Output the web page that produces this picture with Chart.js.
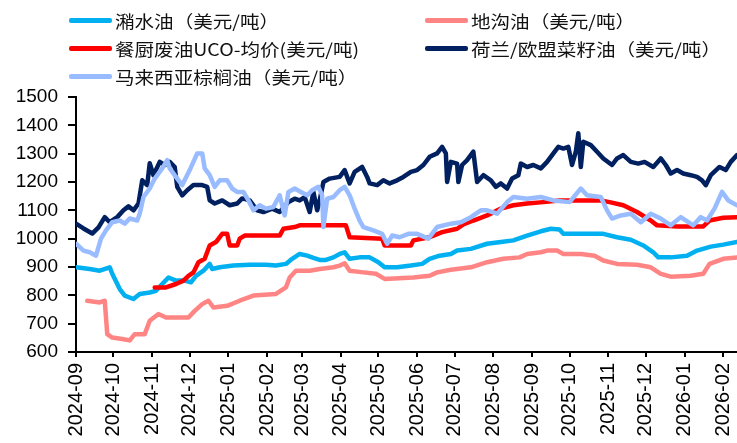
<!DOCTYPE html>
<html>
<head>
<meta charset="utf-8">
<title>废弃油脂与植物油价格</title>
<script src="https://cdn.jsdelivr.net/npm/chart.js@4.4.1/dist/chart.umd.min.js"></script>
<style>
  body { margin: 0; background: #fff; }
  #wrap { position: relative; width: 737px; height: 443px; }
  #legend {
    position: absolute; left: 69px; top: 6px;
    display: grid; grid-template-columns: 356px auto; grid-auto-rows: 28px;
  }
  .item { display: flex; align-items: center; white-space: nowrap; }
  .swatch { width: 43px; height: 5px; border-radius: 2px; margin-right: 3px; }
  .name {
    display: inline-block; color: #111;
    font: 17px "Noto Sans CJK SC", sans-serif;
    transform: scaleX(1.15); transform-origin: left center;
  }
</style>
</head>
<body>
<div id="wrap">
  <canvas id="oilChart" width="737" height="443"></canvas>
  <div id="legend"></div>
</div>
<script>
// month labels on the x axis
const monthTicks = [
  "2024-09", "2024-10", "2024-11", "2024-12", "2025-01", "2025-02", "2025-03", "2025-04", "2025-05",
  "2025-06", "2025-07", "2025-08", "2025-09", "2025-10", "2025-11", "2025-12", "2026-01", "2026-02"
];
const lastDate = "2026-02-12";

// 潲水油 (USD/t)
const swillOil = [
  ["2024-09-01", 899], ["2024-09-12", 893], ["2024-09-20", 887], ["2024-09-28", 899], ["2024-09-30", 876],
  ["2024-10-06", 822], ["2024-10-10", 799], ["2024-10-17", 787], ["2024-10-22", 805], ["2024-10-30", 810],
  ["2024-11-04", 816], ["2024-11-09", 840], ["2024-11-14", 863], ["2024-11-20", 852], ["2024-11-27", 852],
  ["2024-12-02", 846], ["2024-12-06", 869], ["2024-12-12", 887], ["2024-12-17", 911], ["2024-12-19", 893],
  ["2024-12-25", 899], ["2025-01-05", 905], ["2025-01-18", 908], ["2025-01-31", 908], ["2025-02-08", 905],
  ["2025-02-16", 911], ["2025-02-21", 929], ["2025-02-27", 946], ["2025-03-05", 940], ["2025-03-10", 932],
  ["2025-03-15", 925], ["2025-03-20", 925], ["2025-03-26", 934], ["2025-03-31", 946], ["2025-04-04", 952],
  ["2025-04-08", 929], ["2025-04-16", 934], ["2025-04-24", 934], ["2025-05-01", 917], ["2025-05-06", 899],
  ["2025-05-16", 899], ["2025-05-27", 905], ["2025-06-05", 911], ["2025-06-11", 929], ["2025-06-19", 940],
  ["2025-06-28", 946], ["2025-07-03", 958], ["2025-07-14", 964], ["2025-07-27", 982], ["2025-08-07", 988],
  ["2025-08-17", 994], ["2025-08-28", 1011], ["2025-09-08", 1026], ["2025-09-16", 1035], ["2025-09-23", 1032],
  ["2025-09-26", 1017], ["2025-10-10", 1017], ["2025-10-28", 1017], ["2025-11-08", 1005], ["2025-11-19", 996],
  ["2025-11-29", 976], ["2025-12-07", 952], ["2025-12-11", 934], ["2025-12-21", 934], ["2026-01-03", 940],
  ["2026-01-11", 958], ["2026-01-22", 972], ["2026-02-01", 979], ["2026-02-12", 988]
];

// 地沟油 (USD/t)
const gutterOil = [
  ["2024-09-10", 781], ["2024-09-20", 775], ["2024-09-24", 781], ["2024-09-26", 663], ["2024-09-30", 651],
  ["2024-10-09", 645], ["2024-10-14", 641], ["2024-10-18", 663], ["2024-10-26", 663], ["2024-10-30", 710],
  ["2024-11-06", 734], ["2024-11-12", 722], ["2024-11-23", 722], ["2024-11-30", 722], ["2024-12-05", 745],
  ["2024-12-11", 769], ["2024-12-16", 781], ["2024-12-20", 757], ["2024-12-31", 763], ["2025-01-10", 781],
  ["2025-01-21", 799], ["2025-02-08", 805], ["2025-02-16", 828], ["2025-02-19", 863], ["2025-02-24", 887],
  ["2025-03-07", 887], ["2025-03-15", 893], ["2025-03-26", 899], ["2025-03-31", 905], ["2025-04-04", 913],
  ["2025-04-08", 887], ["2025-04-19", 881], ["2025-04-29", 876], ["2025-05-06", 858], ["2025-05-29", 863],
  ["2025-06-11", 869], ["2025-06-17", 881], ["2025-06-28", 890], ["2025-07-14", 899], ["2025-07-27", 917],
  ["2025-08-09", 929], ["2025-08-22", 934], ["2025-08-28", 946], ["2025-09-08", 952], ["2025-09-13", 958],
  ["2025-09-21", 958], ["2025-09-26", 946], ["2025-10-10", 946], ["2025-10-21", 940], ["2025-10-28", 923],
  ["2025-11-08", 911], ["2025-11-24", 908], ["2025-12-05", 899], ["2025-12-13", 876], ["2025-12-21", 866],
  ["2026-01-06", 869], ["2026-01-16", 876], ["2026-01-21", 911], ["2026-02-01", 929], ["2026-02-12", 934]
];

// 餐厨废油UCO 均价 (USD/t)
const ucoAvg = [
  ["2024-11-03", 828], ["2024-11-12", 828], ["2024-11-20", 840], ["2024-11-26", 852], ["2024-11-30", 869],
  ["2024-12-04", 881], ["2024-12-08", 917], ["2024-12-13", 929], ["2024-12-17", 976], ["2024-12-22", 988],
  ["2024-12-27", 1017], ["2024-12-31", 1017], ["2025-01-02", 976], ["2025-01-08", 976], ["2025-01-10", 1000],
  ["2025-01-14", 1011], ["2025-02-11", 1011], ["2025-02-14", 1035], ["2025-02-23", 1041], ["2025-02-27", 1047],
  ["2025-04-05", 1047], ["2025-04-08", 1005], ["2025-05-04", 1000], ["2025-05-06", 976], ["2025-05-27", 976],
  ["2025-05-29", 994], ["2025-06-11", 1005], ["2025-06-21", 1023], ["2025-07-03", 1035], ["2025-07-08", 1050],
  ["2025-07-16", 1064], ["2025-07-27", 1082], ["2025-08-07", 1106], ["2025-08-17", 1118], ["2025-08-28", 1124],
  ["2025-09-10", 1129], ["2025-09-23", 1135], ["2025-10-26", 1135], ["2025-11-02", 1129], ["2025-11-13", 1118],
  ["2025-11-24", 1094], ["2025-12-05", 1064], ["2025-12-10", 1047], ["2025-12-26", 1043], ["2026-01-16", 1043],
  ["2026-01-21", 1064], ["2026-02-01", 1074], ["2026-02-12", 1076]
];

// 荷兰/欧盟菜籽油 (USD/t)
const rapeseedOil = [
  ["2024-09-01", 1053], ["2024-09-07", 1036], ["2024-09-14", 1018], ["2024-09-19", 1040], ["2024-09-24", 1076],
  ["2024-09-28", 1058], ["2024-10-04", 1076], ["2024-10-09", 1100], ["2024-10-13", 1114], ["2024-10-17", 1100],
  ["2024-10-21", 1124], ["2024-10-24", 1206], ["2024-10-28", 1189], ["2024-10-30", 1266], ["2024-11-02", 1224],
  ["2024-11-07", 1271], ["2024-11-11", 1260], ["2024-11-15", 1271], ["2024-11-19", 1253], ["2024-11-21", 1183],
  ["2024-11-25", 1153], ["2024-11-29", 1171], ["2024-12-04", 1189], ["2024-12-11", 1189], ["2024-12-15", 1183],
  ["2024-12-17", 1135], ["2024-12-21", 1124], ["2024-12-27", 1135], ["2025-01-02", 1118], ["2025-01-08", 1124],
  ["2025-01-12", 1142], ["2025-01-18", 1135], ["2025-01-24", 1100], ["2025-01-29", 1094], ["2025-02-05", 1106],
  ["2025-02-11", 1094], ["2025-02-18", 1129], ["2025-02-23", 1141], ["2025-02-27", 1135], ["2025-03-03", 1147],
  ["2025-03-07", 1094], ["2025-03-10", 1165], ["2025-03-13", 1100], ["2025-03-15", 1135], ["2025-03-18", 1200],
  ["2025-03-23", 1212], ["2025-03-31", 1218], ["2025-04-04", 1242], ["2025-04-08", 1195], ["2025-04-12", 1236],
  ["2025-04-18", 1253], ["2025-04-22", 1218], ["2025-04-24", 1195], ["2025-04-30", 1189], ["2025-05-05", 1206],
  ["2025-05-10", 1195], ["2025-05-16", 1206], ["2025-05-21", 1218], ["2025-05-27", 1236], ["2025-06-01", 1242],
  ["2025-06-06", 1260], ["2025-06-11", 1289], ["2025-06-17", 1301], ["2025-06-21", 1324], ["2025-06-24", 1301],
  ["2025-06-25", 1200], ["2025-06-28", 1271], ["2025-07-03", 1265], ["2025-07-04", 1200], ["2025-07-07", 1260],
  ["2025-07-11", 1277], ["2025-07-16", 1307], ["2025-07-19", 1200], ["2025-07-24", 1224], ["2025-07-30", 1206],
  ["2025-08-03", 1183], ["2025-08-07", 1195], ["2025-08-12", 1177], ["2025-08-16", 1212], ["2025-08-21", 1224],
  ["2025-08-23", 1265], ["2025-08-28", 1253], ["2025-09-02", 1260], ["2025-09-08", 1248], ["2025-09-13", 1271],
  ["2025-09-17", 1295], ["2025-09-22", 1324], ["2025-09-26", 1318], ["2025-09-30", 1324], ["2025-10-03", 1260],
  ["2025-10-06", 1307], ["2025-10-08", 1372], ["2025-10-10", 1253], ["2025-10-12", 1342], ["2025-10-18", 1330],
  ["2025-10-23", 1307], ["2025-10-28", 1283], ["2025-11-04", 1260], ["2025-11-08", 1283], ["2025-11-13", 1295],
  ["2025-11-19", 1271], ["2025-11-25", 1265], ["2025-11-30", 1271], ["2025-12-07", 1253], ["2025-12-13", 1283],
  ["2025-12-17", 1260], ["2025-12-21", 1230], ["2025-12-26", 1242], ["2025-12-31", 1230], ["2026-01-06", 1224],
  ["2026-01-11", 1218], ["2026-01-15", 1206], ["2026-01-18", 1189], ["2026-01-22", 1224], ["2026-01-29", 1253],
  ["2026-02-03", 1242], ["2026-02-07", 1271], ["2026-02-12", 1295]
];

// 马来西亚棕榈油 (USD/t)
const palmOil = [
  ["2024-09-01", 982], ["2024-09-07", 958], ["2024-09-12", 952], ["2024-09-17", 940], ["2024-09-21", 1000],
  ["2024-09-25", 1029], ["2024-09-30", 1058], ["2024-10-06", 1064], ["2024-10-10", 1053], ["2024-10-14", 1071],
  ["2024-10-20", 1064], ["2024-10-22", 1088], ["2024-10-25", 1147], ["2024-10-30", 1177], ["2024-11-03", 1212],
  ["2024-11-09", 1248], ["2024-11-13", 1277], ["2024-11-15", 1248], ["2024-11-21", 1212], ["2024-11-25", 1189],
  ["2024-12-01", 1242], ["2024-12-07", 1301], ["2024-12-11", 1301], ["2024-12-13", 1248], ["2024-12-17", 1224],
  ["2024-12-21", 1183], ["2024-12-25", 1206], ["2024-12-31", 1206], ["2025-01-04", 1177], ["2025-01-08", 1165],
  ["2025-01-13", 1165], ["2025-01-17", 1135], ["2025-01-21", 1100], ["2025-01-26", 1118], ["2025-01-31", 1106],
  ["2025-02-06", 1112], ["2025-02-11", 1153], ["2025-02-15", 1082], ["2025-02-18", 1165], ["2025-02-23", 1177],
  ["2025-02-28", 1165], ["2025-03-05", 1153], ["2025-03-09", 1171], ["2025-03-14", 1183], ["2025-03-17", 1153],
  ["2025-03-18", 1041], ["2025-03-21", 1141], ["2025-03-26", 1147], ["2025-03-31", 1171], ["2025-04-04", 1183],
  ["2025-04-08", 1153], ["2025-04-12", 1106], ["2025-04-16", 1064], ["2025-04-19", 1041], ["2025-04-27", 1029],
  ["2025-05-04", 1017], ["2025-05-08", 982], ["2025-05-12", 1011], ["2025-05-18", 1005], ["2025-05-25", 1017],
  ["2025-06-01", 1017], ["2025-06-10", 1000], ["2025-06-17", 1041], ["2025-06-28", 1053], ["2025-07-06", 1058],
  ["2025-07-14", 1076], ["2025-07-22", 1100], ["2025-07-27", 1100], ["2025-08-04", 1088], ["2025-08-12", 1129],
  ["2025-08-17", 1147], ["2025-08-28", 1141], ["2025-09-08", 1147], ["2025-09-18", 1135], ["2025-10-01", 1129],
  ["2025-10-10", 1177], ["2025-10-15", 1153], ["2025-10-26", 1147], ["2025-10-31", 1100], ["2025-11-04", 1071],
  ["2025-11-11", 1082], ["2025-11-19", 1088], ["2025-11-27", 1058], ["2025-12-05", 1088], ["2025-12-13", 1071],
  ["2025-12-21", 1047], ["2025-12-29", 1076], ["2026-01-08", 1047], ["2026-01-14", 1076], ["2026-01-19", 1064],
  ["2026-01-25", 1106], ["2026-01-31", 1165], ["2026-02-05", 1135], ["2026-02-12", 1118]
];

const dayZero = Date.parse(monthTicks[0] + "-01");
const toDay = (d) => (Date.parse(d) - dayZero) / 86400000;
const toPoints = (rows) => rows.map(([d, v]) => ({ x: toDay(d), y: v }));

// legend rows follow this order; `order` sets which line sits on top
const series = [
  { label: "潲水油（美元/吨）", rows: swillOil, color: "#00b0f0", order: 3 },
  { label: "地沟油（美元/吨）", rows: gutterOil, color: "#ff8585", order: 2 },
  { label: "餐厨废油UCO-均价(美元/吨)", rows: ucoAvg, color: "#ff0000", order: 1 },
  { label: "荷兰/欧盟菜籽油（美元/吨）", rows: rapeseedOil, color: "#002060", order: 4 },
  { label: "马来西亚棕榈油（美元/吨）", rows: palmOil, color: "#99bbff", order: 0 }
];

const legend = document.getElementById("legend");
series.forEach((s) => {
  const item = document.createElement("div");
  item.className = "item";
  item.innerHTML = `<span class="swatch" style="background:${s.color}"></span><span class="name">${s.label}</span>`;
  legend.appendChild(item);
});

const tickFont = { family: "'Liberation Sans', Arial, sans-serif" };

new Chart(document.getElementById("oilChart"), {
  type: "line",
  data: {
    datasets: series.map((s) => ({
      label: s.label,
      data: toPoints(s.rows),
      borderColor: s.color,
      backgroundColor: s.color,
      borderWidth: 4.5,
      borderJoinStyle: "round",
      borderCapStyle: "round",
      pointRadius: 0,
      tension: 0,
      order: s.order
    }))
  },
  options: {
    responsive: false,
    animation: false,
    devicePixelRatio: 1,
    layout: { padding: { top: 97, right: 0, left: 0, bottom: 0 } },
    plugins: { legend: { display: false }, tooltip: { enabled: false } },
    scales: {
      x: {
        type: "linear",
        min: 0,
        max: toDay(lastDate),
        afterBuildTicks: (axis) => {
          axis.ticks = monthTicks.map((m) => ({ value: toDay(m + "-01") }));
        },
        afterFit: (axis) => {
          axis.height = 91;
          axis.paddingLeft = 0;
          axis.paddingRight = 0;
        },
        ticks: {
          autoSkip: false,
          minRotation: 90,
          maxRotation: 90,
          padding: 6,
          color: "#000",
          font: { ...tickFont, size: 20 },
          callback: (v, i) => monthTicks[i]
        },
        grid: { drawOnChartArea: false, tickLength: 5, color: "#000", lineWidth: 2 },
        border: { color: "#000", width: 2 }
      },
      y: {
        min: 600,
        max: 1500,
        afterFit: (axis) => { axis.width = 76; },
        ticks: {
          stepSize: 100,
          padding: 10,
          color: "#000",
          font: { ...tickFont, size: 19 },
          callback: (v) => String(v)
        },
        grid: { drawOnChartArea: false, tickLength: 8, color: "#000", lineWidth: 2 },
        border: { color: "#000", width: 2 }
      }
    }
  }
});
</script>
</body>
</html>
